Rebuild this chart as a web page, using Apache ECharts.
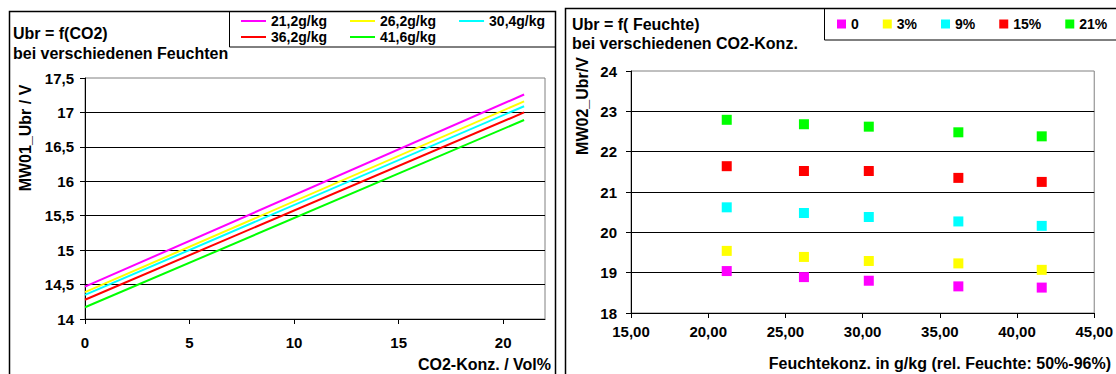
<!DOCTYPE html>
<html>
<head>
<meta charset="utf-8">
<script src="https://cdn.jsdelivr.net/npm/echarts@6/dist/echarts.min.js"></script>
<style>
    html, body { margin: 0; padding: 0; background: #fff; }
    #chart { width: 1116px; height: 374px; }
</style>
</head>
<body>
<div id="chart"></div>
<script>
// linker Plot: Ubr = f(CO2)
var co2 = [0, 21];
var ubr_21_2 = [14.47, 17.26];
var ubr_26_2 = [14.39, 17.16];
var ubr_30_4 = [14.35, 17.09];
var ubr_36_2 = [14.28, 17.00];
var ubr_41_6 = [14.17, 16.89];
var feuchteNamen = ['21,2g/kg', '26,2g/kg', '30,4g/kg', '36,2g/kg', '41,6g/kg'];

// rechter Plot: Ubr = f(Feuchte)
var feuchte = [21.2, 26.2, 30.4, 36.2, 41.6];
var ubr_co2_0 = [19.04, 18.89, 18.80, 18.66, 18.63];
var ubr_co2_3 = [19.54, 19.39, 19.29, 19.23, 19.07];
var ubr_co2_9 = [20.62, 20.48, 20.38, 20.27, 20.16];
var ubr_co2_15 = [21.64, 21.52, 21.52, 21.35, 21.25];
var ubr_co2_21 = [22.79, 22.68, 22.62, 22.48, 22.38];
var co2Namen = ['0', '3%', '9%', '15%', '21%'];

var farben = ['#ff00ff', '#ffff00', '#00ffff', '#ff0000', '#00ff00'];
var FONT = 'Liberation Sans, Arial, sans-serif';

function komma(v) {
    return String(v).replace('.', ',');
}

function paare(xs, ys) {
    return xs.map(function (x, i) { return [x, ys[i]]; });
}

var chart = echarts.init(document.getElementById('chart'), null, {renderer: 'svg'});

var linien = [ubr_21_2, ubr_26_2, ubr_30_4, ubr_36_2, ubr_41_6];
var punkte = [ubr_co2_0, ubr_co2_3, ubr_co2_9, ubr_co2_15, ubr_co2_21];

var series = [];
linien.forEach(function (ys, i) {
    series.push({
        name: feuchteNamen[i],
        type: 'line',
        xAxisIndex: 0,
        yAxisIndex: 0,
        showSymbol: false,
        symbol: 'none',
        color: farben[i],
        lineStyle: {width: 2},
        data: paare(co2, ys)
    });
});
punkte.forEach(function (ys, i) {
    series.push({
        name: co2Namen[i],
        type: 'scatter',
        xAxisIndex: 1,
        yAxisIndex: 1,
        symbol: 'rect',
        symbolSize: 10,
        color: farben[i],
        itemStyle: {opacity: 1},
        data: paare(feuchte, ys)
    });
});

var labelStyle = {color: '#000', fontFamily: FONT, fontWeight: 'bold', fontSize: 15};
var legendText = {color: '#000', fontFamily: FONT, fontWeight: 'bold', fontSize: 14, lineHeight: 16};

function text(t, x, y, opts) {
    opts = opts || {};
    return {
        type: 'text',
        x: x,
        y: y,
        rotation: opts.rotation || 0,
        z: 10,
        style: {
            text: t,
            font: 'bold ' + (opts.size || 16) + 'px ' + FONT,
            fill: '#000',
            textAlign: opts.align || 'left',
            textVerticalAlign: 'middle'
        }
    };
}

var option = {
    animation: false,
    backgroundColor: '#fff',
    textStyle: {fontFamily: FONT},
    legend: [
        {
            data: feuchteNamen.slice(0, 3),
            left: 241, top: 13, padding: 0,
            icon: 'rect', itemWidth: 25, itemHeight: 2, itemGap: 23,
            textStyle: legendText
        },
        {
            data: feuchteNamen.slice(3),
            left: 241, top: 29, padding: 0,
            icon: 'rect', itemWidth: 25, itemHeight: 2, itemGap: 23,
            textStyle: legendText
        },
        {
            data: co2Namen,
            left: 837, top: 16, padding: 0,
            icon: 'rect', itemWidth: 9, itemHeight: 9, itemGap: 24,
            textStyle: legendText
        }
    ],
    grid: [
        {left: 85, top: 78, width: 460, height: 241, show: true, borderColor: '#808080', borderWidth: 1},
        {left: 631, top: 71, width: 465, height: 242, show: true, borderColor: '#808080', borderWidth: 1}
    ],
    xAxis: [
        {
            gridIndex: 0, type: 'value', min: 0, max: 22, interval: 5,
            axisLine: {lineStyle: {color: '#000', width: 1}},
            axisTick: {show: true, length: 5, lineStyle: {color: '#000'}, customValues: [0, 5, 10, 15, 20]},
            axisLabel: Object.assign({margin: 16, customValues: [0, 5, 10, 15, 20]}, labelStyle),
            splitLine: {show: false}
        },
        {
            gridIndex: 1, type: 'value', min: 15, max: 45, interval: 5,
            axisLine: {lineStyle: {color: '#000', width: 1}},
            axisTick: {show: true, length: 5, lineStyle: {color: '#000'}},
            axisLabel: Object.assign({
                margin: 11,
                formatter: function (v) { return v.toFixed(2).replace('.', ','); }
            }, labelStyle),
            splitLine: {show: false}
        }
    ],
    yAxis: [
        {
            gridIndex: 0, type: 'value', min: 14, max: 17.5, interval: 0.5,
            axisLine: {show: true, lineStyle: {color: '#000', width: 1}},
            axisTick: {show: true, length: 5, lineStyle: {color: '#000'}},
            axisLabel: Object.assign({margin: 11, formatter: komma}, labelStyle),
            splitLine: {show: true, showMaxLine: false, lineStyle: {color: '#000', width: 1}}
        },
        {
            gridIndex: 1, type: 'value', min: 18, max: 24, interval: 1,
            axisLine: {show: true, lineStyle: {color: '#000', width: 1}},
            axisTick: {show: true, length: 5, lineStyle: {color: '#000'}},
            axisLabel: Object.assign({margin: 14, formatter: komma}, labelStyle),
            splitLine: {show: true, showMaxLine: false, lineStyle: {color: '#000', width: 1}}
        }
    ],
    graphic: [
        // Rahmen der beiden Diagramme
        {type: 'rect', shape: {x: 9.5, y: 11.5, width: 546, height: 380}, style: {fill: null, stroke: '#000', lineWidth: 1.5}},
        {type: 'rect', shape: {x: 565.5, y: 8.5, width: 560, height: 380}, style: {fill: null, stroke: '#000', lineWidth: 1.5}},
        // Legendenrahmen
        {type: 'rect', shape: {x: 229.5, y: 11.5, width: 326, height: 35.5}, style: {fill: null, stroke: '#000', lineWidth: 1}},
        {type: 'rect', shape: {x: 824.5, y: 8.5, width: 300, height: 31.5}, style: {fill: null, stroke: '#000', lineWidth: 1}},
        // Titel
        text('Ubr = f(CO2)', 13, 33),
        text('bei verschiedenen Feuchten', 13, 53.5),
        text('Ubr = f( Feuchte)', 572, 24),
        text('bei verschiedenen CO2-Konz.', 572, 43.5),
        // Achsentitel
        text('CO2-Konz. / Vol%', 551, 364, {align: 'right'}),
        text('Feuchtekonz. in g/kg (rel. Feuchte: 50%-96%)', 1111, 363, {align: 'right'}),
        text('MW01_Ubr / V', 25, 138, {align: 'center', rotation: Math.PI / 2}),
        text('MW02_Ubr/V', 582, 106, {align: 'center', rotation: Math.PI / 2})
    ],
    series: series
};

chart.setOption(option);
</script>
</body>
</html>
